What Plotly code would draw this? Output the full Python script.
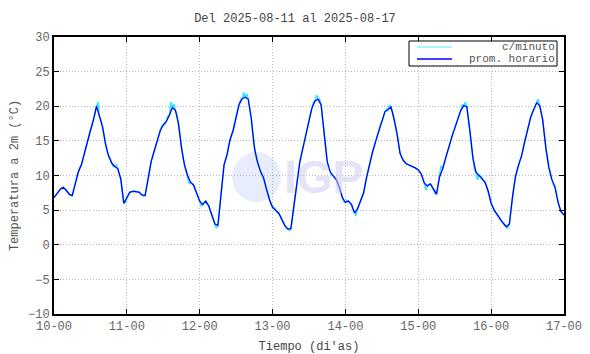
import plotly.graph_objects as go

# Hourly averages ("prom. horario"), one value per hour starting 10-00
hourly_temp = [
    6.8, 7.4, 8.0, 8.3, 7.9, 7.3, 7.1, 8.8, 10.5, 11.5, 13.3, 15.0, 16.5, 18.0, 20.0, 18.5, 17.0, 14.5, 12.8, 11.8, 11.3, 11.0, 9.5, 6.0,
    6.8, 7.6, 7.7, 7.7, 7.6, 7.2, 7.1, 9.5, 12.0, 13.5, 15.0, 16.5, 17.3, 17.8, 18.7, 19.8, 19.4, 17.5, 14.0, 11.5, 10.0, 9.0, 8.6, 7.5,
    6.3, 5.8, 6.3, 5.6, 4.3, 3.0, 2.8, 7.5, 11.5, 13.0, 15.2, 16.5, 18.5, 20.3, 21.1, 21.3, 21.0, 18.2, 14.0, 12.0, 10.6, 9.7, 8.0, 6.5,
    5.4, 5.0, 4.6, 3.7, 2.8, 2.3, 2.3, 5.5, 9.0, 12.0, 14.0, 15.8, 18.0, 19.8, 20.8, 21.0, 20.2, 16.0, 12.0, 10.5, 9.9, 9.4, 8.3, 6.8,
    6.1, 6.3, 5.8, 4.6, 5.2, 6.4, 7.5, 9.8, 11.7, 13.5, 15.0, 16.5, 17.8, 19.2, 19.5, 19.9, 18.2, 16.0, 13.2, 12.2, 11.7, 11.5, 11.4, 11.1,
    10.8, 10.2, 8.9, 8.5, 8.8, 8.0, 7.3, 9.8, 10.9, 12.5, 14.2, 15.5, 16.8, 18.0, 19.4, 20.1, 19.9, 16.5, 12.5, 10.5, 10.0, 9.6, 9.0, 7.8,
    6.0, 5.0, 4.3, 3.6, 3.1, 2.6, 3.0, 6.8, 9.8, 11.5, 12.8, 14.8, 16.5, 18.4, 19.5, 20.5, 20.1, 18.0, 14.0, 11.2, 9.4, 8.4, 6.2, 4.8,
    4.3,
]

# Per-minute readings at the half hours
minute_half_temp = [
    7.1, 7.7, 8.2, 8.1, 7.6, 7.1, 7.8, 9.7, 11.2, 12.3, 14.3, 15.9, 17.4, 19.0, 20.6, 18.0, 15.8, 13.4, 12.5, 11.3, 11.6, 10.0, 7.4, 6.1,
    7.2, 7.7, 7.8, 7.6, 7.3, 7.0, 8.4, 10.9, 12.8, 14.4, 15.8, 17.2, 17.4, 18.6, 20.6, 20.3, 18.8, 15.6, 12.5, 10.5, 8.9, 8.9, 7.9, 6.8,
    5.6, 6.2, 5.8, 4.7, 3.5, 2.4, 5.0, 9.8, 12.3, 14.2, 15.8, 17.6, 19.6, 21.0, 22.0, 21.8, 19.8, 16.0, 12.8, 11.3, 10.0, 8.8, 7.1, 5.8,
    5.4, 4.6, 4.1, 3.2, 2.4, 2.1, 3.5, 7.4, 10.6, 13.2, 14.9, 17.0, 19.0, 20.6, 21.6, 21.0, 18.0, 13.8, 11.0, 10.1, 9.6, 8.9, 7.5, 6.2,
    6.4, 6.0, 5.0, 4.2, 5.8, 7.0, 8.7, 10.8, 12.7, 14.3, 15.9, 17.3, 18.6, 19.6, 20.2, 19.2, 17.1, 14.6, 12.6, 11.9, 11.6, 11.4, 11.2, 11.0,
    10.5, 9.4, 7.9, 8.7, 8.4, 7.4, 8.5, 11.4, 11.7, 13.4, 14.9, 16.2, 17.6, 18.9, 20.2, 20.6, 18.3, 14.4, 10.8, 9.4, 10.0, 9.3, 8.4, 6.9,
    5.5, 4.6, 3.9, 3.3, 2.8, 2.4, 4.8, 8.4, 10.7, 12.1, 13.8, 15.7, 17.5, 19.0, 20.2, 21.0, 19.2, 16.0, 12.6, 10.2, 8.6, 7.4, 5.4, 4.5,
]

day_tick_hours = [0, 24, 48, 72, 96, 120, 144, 168]
day_tick_labels = ["10-00", "11-00", "12-00", "13-00", "14-00", "15-00", "16-00", "17-00"]
y_ticks = [-10, -5, 0, 5, 10, 15, 20, 25, 30]
series_names = ["c/minuto", "prom. horario"]
series_colors = ["#2ee8ff", "#0000ff"]

hours = list(range(len(hourly_temp)))

# minute trace: hourly points plus half-hour readings, in time order
minute_x, minute_y = [], []
for h in hours:
    minute_x.append(h)
    minute_y.append(hourly_temp[h])
    if h < len(minute_half_temp):
        minute_x.append(h + 0.5)
        minute_y.append(minute_half_temp[h])

FONT = "Liberation Mono"

fig = go.Figure()
fig.add_trace(go.Scatter(x=minute_x, y=minute_y, mode="lines", name=series_names[0],
                         line=dict(color=series_colors[0], width=1.5), showlegend=False))
fig.add_trace(go.Scatter(x=hours, y=hourly_temp, mode="lines", name=series_names[1],
                         line=dict(color=series_colors[1], width=1.3), showlegend=False))

# plot-area pixel helpers (plot area spans x 54..564, y 37..314 in the page)
def px(x):
    return (x - 54) / 510

def py(y):
    return (314 - y) / 277

# IGP watermark
fig.add_shape(type="circle", xref="paper", yref="paper",
              x0=px(232), x1=px(281), y0=py(202), y1=py(152),
              fillcolor="rgba(215,225,248,0.6)", line=dict(width=0), layer="below")
fig.add_annotation(xref="paper", yref="paper", x=px(323), y=py(177),
                   text="<b>IGP</b>", showarrow=False,
                   font=dict(family="Arial", size=46, color="rgba(205,205,240,0.55)"))

# legend box (drawn to match the compact original)
fig.add_shape(type="rect", xref="paper", yref="paper", x0=px(409), x1=px(557), y0=py(66), y1=py(41),
              fillcolor="white", line=dict(color="black", width=1), layer="above")
legend_rows = [47, 59]
for name, color, row in zip(series_names, ["#8ff0ff", series_colors[1]], legend_rows):
    fig.add_shape(type="line", xref="paper", yref="paper", x0=px(417), x1=px(452), y0=py(row), y1=py(row),
                  line=dict(color=color, width=1.3), layer="above")
    fig.add_annotation(xref="paper", yref="paper", x=px(556), y=py(row), xanchor="right", yanchor="middle",
                       text=name, showarrow=False, borderpad=0,
                       font=dict(family=FONT, size=11, color="#555555"))

axis_common = dict(showline=True, linecolor="black", linewidth=2, mirror="ticks",
                   ticks="inside", ticklen=5, tickcolor="black", tickwidth=1,
                   showgrid=True, gridcolor="#b8b8b8", griddash="1px,2px", gridwidth=1,
                   zeroline=False, automargin=False,
                   tickfont=dict(family=FONT, size=12, color="#666666"))

fig.update_xaxes(range=[0, 168], tickvals=day_tick_hours, ticktext=day_tick_labels,
                 title=dict(text="Tiempo (di'as)", font=dict(family=FONT, size=12, color="#444444"), standoff=10),
                 **axis_common)
fig.update_yaxes(range=[-10, 30], tickvals=y_ticks,
                 title=dict(text="Temperatura a 2m (°C)", font=dict(family=FONT, size=12, color="#555555"), standoff=12),
                 **axis_common)

# the page body adds an 8 px margin, so the figure is 8 px smaller and margins are shifted
fig.update_layout(
    width=582, height=346,
    margin=dict(l=46, r=26, t=29, b=40),
    paper_bgcolor="white", plot_bgcolor="white",
    title=dict(text="Del 2025-08-11 al 2025-08-17", x=(295 - 8) / 582, xanchor="center",
               y=1 - 10 / 346, yanchor="middle",
               font=dict(family=FONT, size=12, color="#444444")),
    showlegend=False,
)

fig.write_html("out.html")
